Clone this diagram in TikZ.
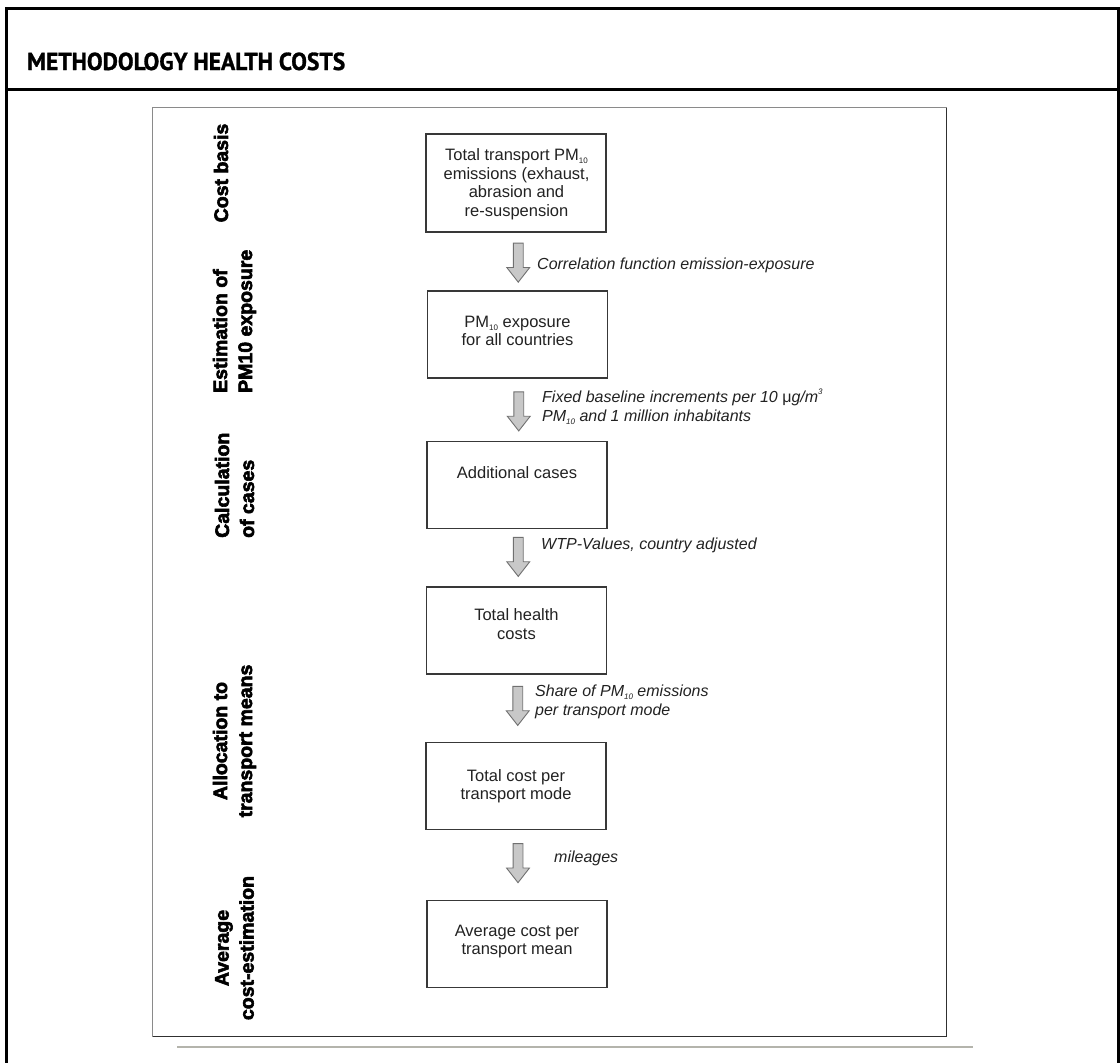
\documentclass[tikz,border=0pt]{standalone}
\usepackage{fontspec}
\setmainfont{Liberation Sans}
\newfontfamily\titlefont[RawFeature={embolden=1.2}]{PT Sans}
\newfontfamily\lblfont[RawFeature={embolden=3}]{Liberation Sans Bold}
\usetikzlibrary{shapes.arrows,calc}
\newcommand\pmsub[1]{\raisebox{-0.35ex}{\fontsize{8}{8}\selectfont #1}}
\newcommand\pmsup[1]{\raisebox{0.9ex}{\fontsize{8}{8}\selectfont #1}}
\definecolor{txt}{HTML}{222222}
\definecolor{boxc}{HTML}{383838}
\definecolor{arrowdk}{HTML}{707070}
\definecolor{arrowfill}{HTML}{C8C8C8}
\definecolor{framelt}{HTML}{8A8A8A}
\definecolor{framedk}{HTML}{303030}
\definecolor{rulegray}{HTML}{B4B4AC}
\begin{document}
\begin{tikzpicture}[x=1pt,y=-1pt,
  flowbox/.style={draw=boxc, line width=1.1pt, minimum width=180pt, minimum height=87pt, inner sep=0pt},
  boxtext/.style={font=\fontsize{16.5}{18.5}\selectfont, text=txt, align=center, inner sep=0pt},
  blockarrow/.style={single arrow, draw=arrowdk, fill=arrowfill, line width=0.9pt,
    minimum height=39pt, minimum width=22pt, single arrow head extend=6.5pt,
    single arrow tip angle=76, inner sep=0pt, text height=4.5pt, text depth=4.5pt, rotate=-90},
  steplabel/.style={font=\fontsize{16}{19.5}\selectfont\itshape, text=txt, align=left, anchor=west, inner sep=0pt},
  sidelabel/.style={font=\lblfont\fontsize{19.5}{25}\selectfont, text=black, rotate=90, inner sep=0pt}
]
\useasboundingbox (0,0) rectangle (1120,1063);
\fill[white] (0,0) rectangle (1120,1063);
% outer frame
\draw[line width=3.4pt, black] (6.5,1063) -- (6.5,8.5) -- (1118.3,8.5) -- (1118.3,1063);
\draw[line width=3.4pt, black] (6.5,89.5) -- (1118.3,89.5);
\node[anchor=base west, inner sep=0pt] (title) at (27,70)
  {\resizebox{318pt}{17.5pt}{\titlefont\bfseries METHODOLOGY HEALTH COSTS}};
% inner panel
\draw[framelt, line width=1.3pt] (152.5,1036.5) -- (152.5,107.5) -- (946.5,107.5);
\draw[framedk, line width=1.3pt] (946.5,107.5) -- (946.5,1036.5) -- (152.5,1036.5);
\draw[rulegray, line width=2pt] (177,1047) -- (973,1047);

% side labels
\node[sidelabel] (s1) at (221,173) {Cost basis};
\node[sidelabel, anchor=west, align=left] (s2) at (234.5,393) {Estimation of\\PM10 exposure};
\node[sidelabel, anchor=west, align=left] (s3) at (234.5,538) {Calculation\\of cases};
\node[sidelabel, align=center] (s4) at (234.5,741) {Allocation to\\transport means};
\node[sidelabel, align=center] (s5) at (234.5,948) {Average\\cost-estimation};

% boxes
\node[flowbox, minimum height=98pt] (b1) at (516,183) {};
\node[flowbox] (b2) at (517.5,334.5) {};
\node[flowbox] (b3) at (517,485) {};
\node[flowbox] (b4) at (516.5,630.5) {};
\node[flowbox] (b5) at (516,786) {};
\node[flowbox] (b6) at (517,944) {};

\node[boxtext] (t1) at (516.5,184) {Total transport PM\pmsub{10}\\emissions (exhaust,\\abrasion and\\re-suspension};
\node[boxtext] (t2) at (517.5,331) {PM\pmsub{10} exposure\\for all countries};
\node[boxtext] (t3) at (517,473) {Additional cases};
\node[boxtext] (t4) at (516.5,624) {Total health\\costs};
\node[boxtext] (t5) at (516,786) {Total cost per\\transport mode};
\node[boxtext] (t6) at (517,941.5) {Average cost per\\transport mean};

% block arrows
\node[blockarrow] (a1) at ($(b1.south)!0.5!(b2.north)+(1.5,-2)$) {};
\node[blockarrow] (a2) at ($(b2.south)!0.5!(b3.north)+(1.5,-1.5)$) {};
\node[blockarrow] (a3) at ($(b3.south)!0.5!(b4.north)+(1.5,-4)$) {};
\node[blockarrow] (a4) at ($(b4.south)!0.5!(b5.north)+(1.5,-5.5)$) {};
\node[blockarrow] (a5) at ($(b5.south)!0.5!(b6.north)+(1.5,-5)$) {};

% arrow labels
\node[steplabel] (l1) at (537,265) {Correlation function emission-exposure};
\node[steplabel] (l2) at (542,407) {Fixed baseline increments per 10 {\upshape μ}g/m\pmsup{3}\\PM\pmsub{10} and 1 million inhabitants};
\node[steplabel] (l3) at (541,545) {WTP-Values, country adjusted};
\node[steplabel] (l4) at (535,702) {Share of PM\pmsub{10} emissions\\per transport mode};
\node[steplabel] (l5) at (554,858) {mileages};
\end{tikzpicture}
\end{document}
